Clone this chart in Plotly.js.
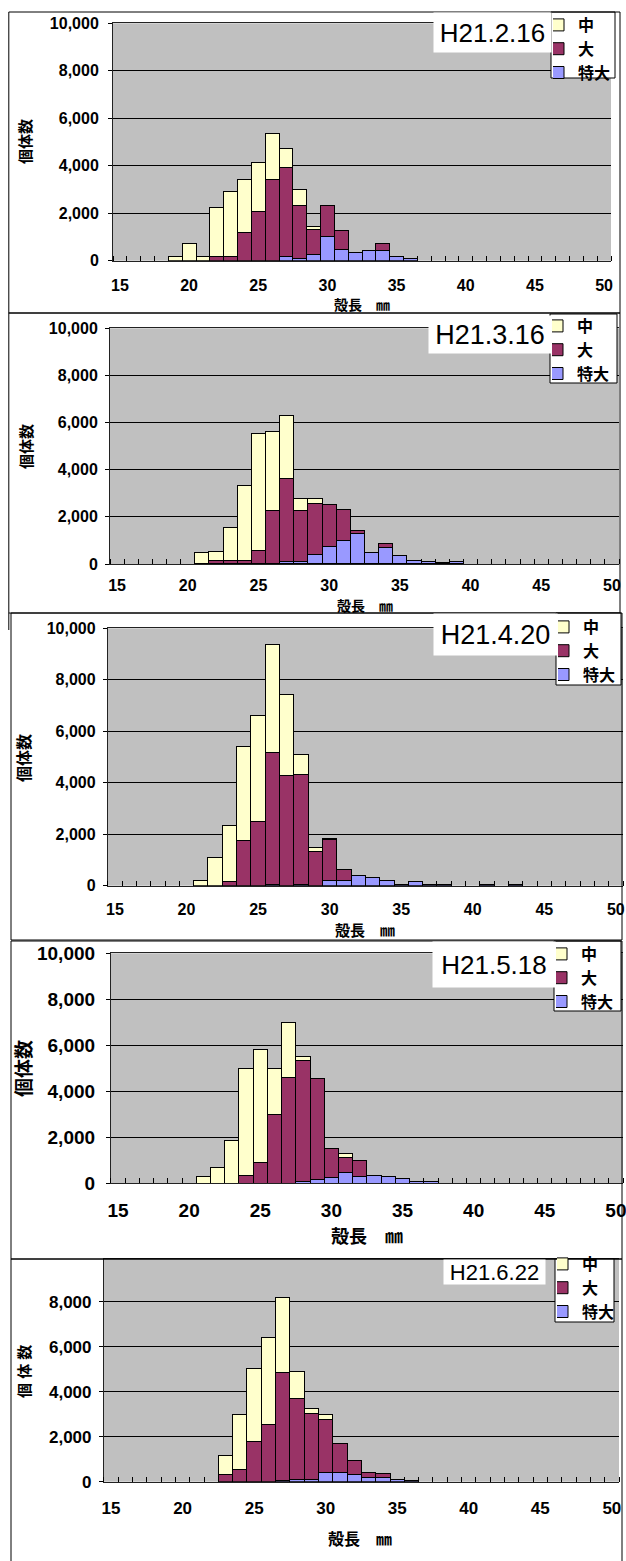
<!DOCTYPE html>
<html>
<head>
<meta charset="utf-8">
<script src="https://cdn.plot.ly/plotly-3.0.1.min.js"></script>
<style>
html,body{margin:0;padding:0;background:#fff;}
#chart{width:626px;height:1561px;}
</style>
</head>
<body>
<div id="chart"></div>
<script>
// ---------- DATA ----------
// shell length classes (mm)
const categories = [15,16,17,18,19,20,21,22,23,24,
                    25,26,27,28,29,30,31,32,33,34,
                    35,36,37,38,39,40,41,42,43,44,
                    45,46,47,48,49,50];
const xTickLabels = [15,20,25,30,35,40,45,50];
const seriesNames = ['中','大','特大'];
const panelTitles = ['H21.2.16','H21.3.16','H21.4.20','H21.5.18','H21.6.22'];

// H21.2.16
const feb_med   = [0,0,0,0,180,730,180,2080,2750,2200, 2060,1930,800,670,100,0,0,0,0,0, 0,0,0,0,0,0,0,0,0,0, 0,0,0,0,0,0];
const feb_large = [0,0,0,0,0,0,0,170,170,1200, 2090,3430,3760,2230,1060,1300,770,0,0,290, 0,0,0,0,0,0,0,0,0,0, 0,0,0,0,0,0];
const feb_xl    = [0,0,0,0,0,0,0,0,0,0, 0,0,170,100,270,1040,490,340,450,440, 170,110,0,0,0,0,0,0,0,0, 0,0,0,0,0,0];
// H21.3.16
const mar_med   = [0,0,0,0,0,0,500,410,1400,3200, 4940,3350,2680,500,210,0,0,0,0,0, 0,0,0,0,0,0,0,0,0,0, 0,0,0,0,0,0];
const mar_large = [0,0,0,0,0,0,0,140,140,140, 590,2280,3520,2180,2150,1760,1320,110,0,180, 0,0,0,0,0,0,0,0,0,0, 0,0,0,0,0,0];
const mar_xl    = [0,0,0,0,0,0,0,0,0,0, 0,0,100,100,420,760,990,1300,490,690, 380,155,100,60,100,0,0,0,0,0, 0,0,0,0,0,0];
// H21.4.20
const apr_med   = [0,0,0,0,0,0,200,1080,2150,3640, 4100,4180,3150,780,170,70,0,0,0,0, 0,0,0,0,0,0,0,0,0,0, 0,0,0,0,0,0];
const apr_large = [0,0,0,0,0,0,0,0,170,1770, 2500,5140,4290,4280,1310,1570,400,0,0,0, 0,0,0,0,0,0,0,0,0,0, 0,0,0,0,0,0];
const apr_xl    = [0,0,0,0,0,0,0,0,0,0, 0,50,0,50,0,210,210,380,320,210, 50,170,50,50,0,0,40,0,40,0, 0,0,0,0,0,0];
// H21.5.18
const may_med   = [0,0,0,0,0,0,300,670,1850,4650, 4910,2030,2380,170,0,0,190,0,0,0, 0,0,0,0,0,0,0,0,0,0, 0,0,0,0,0,0];
const may_large = [0,0,0,0,0,0,0,0,0,320, 890,2980,4610,5280,4400,1240,650,680,0,0, 0,0,0,0,0,0,0,0,0,0, 0,0,0,0,0,0];
const may_xl    = [0,0,0,0,0,0,0,0,0,0, 0,0,0,60,150,260,450,300,320,280, 220,60,60,0,0,0,0,0,0,0, 0,0,0,0,0,0];
// H21.6.22
const jun_med   = [0,0,0,0,0,0,0,0,850,2430, 3290,3890,3350,1210,220,190,0,0,0,0, 0,0,0,0,0,0,0,0,0,0, 0,0,0,0,0,0];
const jun_large = [0,0,0,0,0,0,0,0,330,550, 1770,2530,4780,3600,2930,2380,1300,630,240,160, 0,0,0,0,0,0,0,0,0,0, 0,0,0,0,0,0];
const jun_xl    = [0,0,0,0,0,0,0,0,0,0, 0,0,60,100,100,400,400,330,190,190, 100,60,0,0,0,0,0,0,0,0, 0,0,0,0,0,0];

// ---------- LAYOUT (pixels) ----------
const W = 626, H = 1561;
const PX = v => v / W, PY = v => 1 - v / H;
const FONT = "'Liberation Sans', Arial, 'Noto Sans CJK JP', sans-serif";
const colors = {med:'#FFFFCC', large:'#993366', xl:'#9999FF'};

// legbox: [left, top, right, bottom] of white legend box; legItem: y of first entry centre
const panels = [
  {data:[feb_med,feb_large,feb_xl], plot:[113,611,23.3,260.7], yMax:10000, frame:[8.8,12,620,313],
   tbox:[433,12,117,39], tsize:26, legbox:[551,12,615,78], legItem:25, legSize:16, tick:16, ystand:6, xstand:10,
   ytitle:[25,142,15,'個体数'], xtitle:[362,305,14]},
  {data:[mar_med,mar_large,mar_xl], plot:[110,619,328.3,564], yMax:10000, frame:[8.8,313,620,613],
   tbox:[428,315,122,37], tsize:27, legbox:[550,314,617,383], legItem:326, legSize:16, tick:16, ystand:4, xstand:7,
   ytitle:[26,447,15,'個体数'], xtitle:[365,606,14]},
  {data:[apr_med,apr_large,apr_xl], plot:[107.8,623,628.3,885.7], yMax:10000, frame:[11,613,622,940],
   tbox:[433,613,123,41], tsize:27, legbox:[556,613,621,685], legItem:627, legSize:16, tick:16, ystand:4, xstand:9,
   ytitle:[24,758,16,'個体数'], xtitle:[365,931,15]},
  {data:[may_med,may_large,may_xl], plot:[110.9,623,953.3,1183.3], yMax:10000, frame:[11,941,622,1259],
   tbox:[432,941,122,45], tsize:26, legbox:[554,941,621,1011], legItem:954, legSize:16, tick:19, ystand:7, xstand:10,
   ytitle:[24,1069,19,'個体数'], xtitle:[367,1237,18]},
  {data:[jun_med,jun_large,jun_xl], plot:[103.9,619,1259,1481.7], yMax:10000*(1481.7-1259)/(1481.7-1257), frame:[11,1259,622,1575],
   tbox:[443,1259,101,24], tsize:22, legbox:[555,1259,614,1322], legItem:1264, legSize:16, tick:17, ystand:4, xstand:11,
   ytitle:[24,1372,15,'個 体 数'], xtitle:[360,1539,16]}
];

const traces = [];
const layout = {
  width: W, height: H,
  margin: {l:0, r:0, t:0, b:0},
  paper_bgcolor: '#ffffff',
  plot_bgcolor: '#C0C0C0',
  barmode: 'stack',
  bargap: 0,
  showlegend: true,
  shapes: [],
  annotations: []
};

panels.forEach((p, i) => {
  const n = i + 1;
  const xa = 'xaxis' + (n === 1 ? '' : n), ya = 'yaxis' + (n === 1 ? '' : n);
  const xr = 'x' + (n === 1 ? '' : n), yr = 'y' + (n === 1 ? '' : n);
  const lg = 'legend' + (n === 1 ? '' : n);
  const [med, large, xl] = p.data;
  const parts = [
    {vals: xl, name: seriesNames[2], color: colors.xl},
    {vals: large, name: seriesNames[1], color: colors.large},
    {vals: med, name: seriesNames[0], color: colors.med}
  ];
  parts.forEach(s => {
    traces.push({
      type: 'bar', x: categories, y: s.vals.map(v => v === 0 ? null : v),
      name: s.name, xaxis: xr, yaxis: yr, legend: lg,
      marker: {color: s.color, line: {color: '#000', width: 1}},
      hoverinfo: 'skip'
    });
  });
  const tickFont = {family: FONT, size: p.tick, color: '#000', weight: 'bold'};
  layout[xa] = {
    domain: [PX(p.plot[0]), PX(p.plot[1])], anchor: yr,
    range: [14.5, 50.5], tickmode: 'array', tickvals: xTickLabels, ticktext: xTickLabels.map(String),
    ticks: '', ticklabelstandoff: p.xstand, ticklabeloverflow: 'allow', tickfont: tickFont,
    showgrid: false, zeroline: false, showline: true, linecolor: '#222', linewidth: 1, mirror: true,
    minor: {ticks: 'inside', ticklen: 5, tickwidth: 1, tickcolor: '#000', tick0: 0.5, dtick: 1, showgrid: false},
    fixedrange: true
  };
  layout[ya] = {
    domain: [PY(p.plot[3]), PY(p.plot[2])], anchor: xr,
    range: [0, p.yMax], dtick: 2000, tick0: 0, tickformat: ',d',
    ticks: 'outside', ticklen: 4, tickcolor: '#000', ticklabelstandoff: p.ystand, ticklabeloverflow: 'allow', tickfont: tickFont,
    showgrid: true, gridcolor: '#000', gridwidth: 1, zeroline: false,
    showline: true, linecolor: '#222', linewidth: 1, fixedrange: true
  };
  // white legend box (drawn as a shape), legend itself transparent on top of it
  const lb = p.legbox;
  layout.shapes.push({type: 'rect', xref: 'paper', yref: 'paper', layer: 'above',
    x0: PX(lb[0]), x1: PX(lb[2]), y0: PY(lb[3]), y1: PY(lb[1]),
    line: {color: '#000', width: 1}, fillcolor: '#fff'});
  layout[lg] = {
    x: PX(lb[0] + 2), y: PY(p.legItem - 17), xref: 'paper', yref: 'paper', xanchor: 'left', yanchor: 'top',
    bgcolor: 'rgba(0,0,0,0)', borderwidth: 0, indentation: -15,
    font: {family: FONT, size: p.legSize, color: '#000', weight: 'bold'},
    traceorder: 'reversed', tracegroupgap: 0, itemclick: false, itemdoubleclick: false
  };
  // frame
  layout.shapes.push({type: 'rect', xref: 'paper', yref: 'paper', layer: 'above',
    x0: PX(p.frame[0]), x1: PX(p.frame[2]), y0: PY(p.frame[3]), y1: PY(p.frame[1]),
    line: {color: '#000', width: 1}, fillcolor: 'rgba(0,0,0,0)'});
  // date box
  layout.annotations.push({xref: 'paper', yref: 'paper', x: PX(p.tbox[0]), y: PY(p.tbox[1]),
    xanchor: 'left', yanchor: 'top', width: p.tbox[2], height: p.tbox[3], borderpad: 0,
    bgcolor: '#fff', showarrow: false, align: 'center', valign: 'middle',
    text: panelTitles[i], font: {family: FONT, size: p.tsize, color: '#000'}});
  // y title
  layout.annotations.push({xref: 'paper', yref: 'paper', x: PX(p.ytitle[0]), y: PY(p.ytitle[1]),
    xanchor: 'center', yanchor: 'middle', textangle: -90, showarrow: false,
    text: p.ytitle[3], font: {family: FONT, size: p.ytitle[2], color: '#000', weight: 'bold'}});
  // x title
  layout.annotations.push({xref: 'paper', yref: 'paper', x: PX(p.xtitle[0]), y: PY(p.xtitle[1]),
    xanchor: 'center', yanchor: 'middle', showarrow: false,
    text: '殻長　㎜', font: {family: FONT, size: p.xtitle[2], color: '#000', weight: 'bold'}});
});
// extra left edge line between panel 2 and 3
layout.shapes.push({type: 'line', xref: 'paper', yref: 'paper', layer: 'above',
  x0: PX(8.8), x1: PX(8.8), y0: PY(613), y1: PY(630), line: {color: '#000', width: 1}});

Plotly.newPlot('chart', traces, layout, {staticPlot: true, displayModeBar: false});
</script>
</body>
</html>
